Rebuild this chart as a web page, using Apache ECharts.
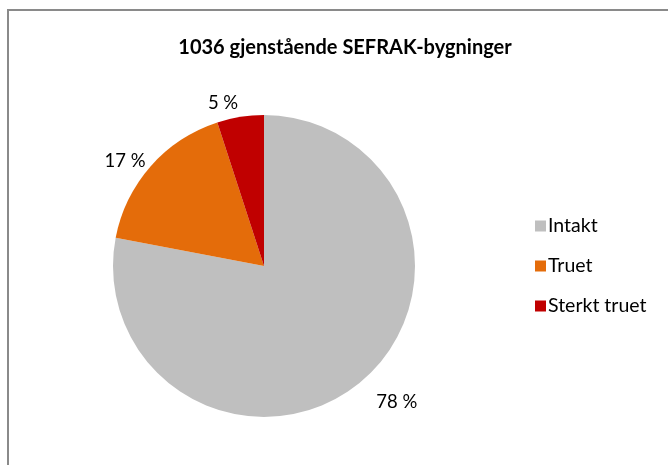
<!DOCTYPE html>
<html>
<head>
<meta charset="utf-8">
<script src="https://cdn.jsdelivr.net/npm/echarts@6/dist/echarts.min.js"></script>
<style>
  html, body { margin: 0; padding: 0; background: #fff; }
  #chart { width: 668px; height: 465px; }
</style>
</head>
<body>
<div id="chart"></div>
<script>
// data
const categories = ['Intakt', 'Truet', 'Sterkt truet'];
const shares = [78, 17, 5];
const colors = ['#bfbfbf', '#e46c0a', '#c00000'];
const titleText = '1036 gjenstående SEFRAK-bygninger';

// Excel places the labels a bit unevenly, so each gets its own line length
const labelLen = [25, 7, 14];

const font = 'Lato, "Open Sans", sans-serif';

const chart = echarts.init(document.getElementById('chart'));

chart.setOption({
    animation: false,
    backgroundColor: '#fff',
    title: {
        text: titleText,
        left: 340,
        top: 33,
        textAlign: 'center',
        textStyle: { fontFamily: font, fontWeight: 'bold', fontSize: 20, color: '#000' }
    },
    legend: {
        orient: 'vertical',
        left: 530,
        top: 211,
        itemWidth: 11,
        itemHeight: 11,
        itemGap: 20,
        icon: 'rect',
        textStyle: { fontFamily: font, fontSize: 19.5, color: '#000', padding: [0, 0, 0, -3] },
        data: categories
    },
    graphic: [{
        type: 'rect',
        shape: { x: 8, y: 10, width: 700, height: 500 },
        style: { fill: 'none', stroke: '#8a8a8a', lineWidth: 2 },
        silent: true
    }],
    series: [{
        type: 'pie',
        center: [264, 266],
        radius: 151,
        startAngle: 90,
        clockwise: true,
        avoidLabelOverlap: false,
        label: {
            position: 'outside',
            formatter: p => p.value + ' %',
            fontFamily: font,
            fontSize: 18.5,
            color: '#000',
            distanceToLabelLine: 0
        },
        labelLine: { show: false, length2: 0 },
        emphasis: { disabled: true },
        data: categories.map((name, i) => ({
            name: name,
            value: shares[i],
            itemStyle: { color: colors[i] },
            labelLine: { show: false, length: labelLen[i], length2: 0 }
        }))
    }]
});
</script>
</body>
</html>
